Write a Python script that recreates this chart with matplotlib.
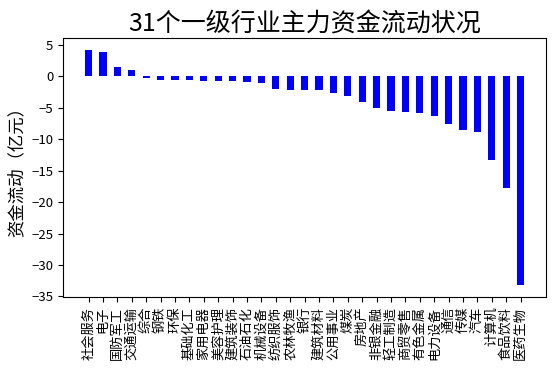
import matplotlib
matplotlib.use("Agg")
import matplotlib.pyplot as plt

plt.rcParams["font.family"] = ["Noto Sans CJK SC", "DejaVu Sans"]
plt.rcParams["axes.unicode_minus"] = True

# 31个一级行业主力资金流动（亿元）
industries = [
    "社会服务", "电子", "国防军工", "交通运输", "综合", "钢铁", "环保",
    "基础化工", "家用电器", "美容护理", "建筑装饰", "石油石化", "机械设备",
    "纺织服饰", "农林牧渔", "银行", "建筑材料", "公用事业", "煤炭", "房地产",
    "非银金融", "轻工制造", "商贸零售", "有色金属", "电力设备", "通信", "传媒",
    "汽车", "计算机", "食品饮料", "医药生物",
]
flows = [
    4.2, 3.8, 1.5, 1.0, -0.3, -0.55, -0.6,
    -0.65, -0.7, -0.75, -0.8, -0.85, -1.1,
    -2.0, -2.1, -2.15, -2.2, -2.6, -3.2, -4.0,
    -5.0, -5.55, -5.65, -5.75, -6.35, -7.6, -8.55,
    -8.8, -13.3, -17.75, -33.2,
]

fig = plt.figure(figsize=(5.55, 3.71), dpi=100)
ax = fig.add_axes([0.1135, 0.2, 0.8705, 0.697])

x = range(len(industries))
ax.bar(x, flows, width=0.5, color="blue")

ax.set_xticks(list(x))
ax.set_xticklabels(industries, rotation=90, fontsize=9.5)
ax.tick_params(axis="y", labelsize=9.5)
ax.set_yticks([5, 0, -5, -10, -15, -20, -25, -30, -35])
ax.set_ylabel("资金流动（亿元）", fontsize=12.5)
ax.set_title("31个一级行业主力资金流动状况", fontsize=18, pad=5)

fig.savefig("out.png", dpi=100)
